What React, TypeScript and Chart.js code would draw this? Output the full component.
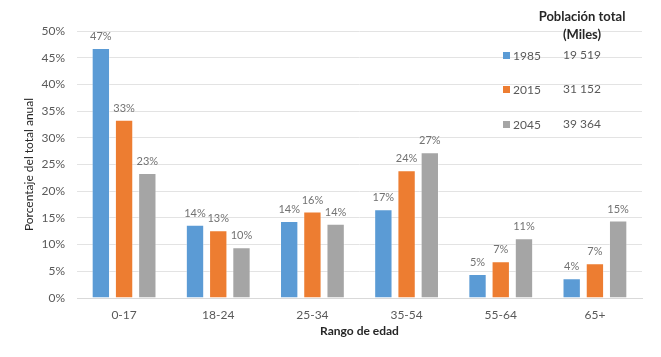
import React, { useEffect, useRef } from "react";
import { Chart, registerables } from "chart.js";

Chart.register(...registerables);

const categories = ["0-17", "18-24", "25-34", "35-54", "55-64", "65+"];
const seriesNames = ["1985", "2015", "2045"];
const values1985 = [46.8, 13.7, 14.4, 16.6, 4.5, 3.7];
const values2015 = [33.4, 12.7, 16.2, 23.9, 6.9, 6.5];
const values2045 = [23.4, 9.5, 13.9, 27.3, 11.2, 14.5];
const totals = ["19 519", "31 152", "39 364"];
const colors = ["#5b9bd5", "#ed7d31", "#a5a5a5"];
const legendTitle = ["Población total", "(Miles)"];

const FONT = "Lato, 'Open Sans', sans-serif";

const overlayPlugin = {
  id: "overlay",
  afterDatasetsDraw(chart: any) {
    const ctx = chart.ctx;
    ctx.save();
    ctx.font = `11px ${FONT}`;
    ctx.fillStyle = "#727272";
    ctx.textAlign = "center";
    ctx.textBaseline = "bottom";
    chart.data.datasets.forEach((ds: any, i: number) => {
      const meta = chart.getDatasetMeta(i);
      meta.data.forEach((bar: any, j: number) => {
        const v = ds.data[j];
        ctx.fillText(Math.round(v) + "%", bar.x, bar.y - 6);
      });
    });
    ctx.restore();
  },
  afterDraw(chart: any) {
    const ctx = chart.ctx;
    ctx.save();
    ctx.fillStyle = "#262626";
    ctx.font = `bold 13px ${FONT}`;
    ctx.textAlign = "center";
    ctx.textBaseline = "middle";
    ctx.fillText(legendTitle[0], 582, 17);
    ctx.fillText(legendTitle[1], 582, 35);
    const rows = [56, 90, 125];
    seriesNames.forEach((name, i) => {
      const y = rows[i];
      ctx.fillStyle = colors[i];
      ctx.fillRect(503, y - 4, 7, 7);
      ctx.fillStyle = "#595959";
      ctx.font = `12px ${FONT}`;
      ctx.textAlign = "left";
      ctx.fillText(name, 513, y);
      ctx.textAlign = "center";
      ctx.fillText(totals[i], 582, y - 1);
    });
    ctx.restore();
  },
};

export default function App() {
  const ref = useRef<HTMLCanvasElement>(null);
  useEffect(() => {
    document.body.style.margin = "0";
    const chart = new Chart(ref.current!, {
      type: "bar",
      data: {
        labels: categories,
        datasets: [values1985, values2015, values2045].map((d, i) => ({
          label: seriesNames[i],
          data: d,
          backgroundColor: colors[i],
          borderColor: "rgba(255,255,255,0.35)",
          borderWidth: 1,
          categoryPercentage: 0.74,
          barPercentage: 0.79,
        })),
      },
      options: {
        responsive: false,
        animation: false,
        layout: { padding: { top: 31, right: 19, left: 0, bottom: 0 } },
        plugins: { legend: { display: false }, tooltip: { enabled: false } },
        scales: {
          x: {
            grid: { display: false, drawTicks: false },
            border: { display: true, color: "#d9d9d9" },
            ticks: { color: "#595959", font: { family: FONT, size: 12 }, padding: 10 },
            title: {
              display: true,
              text: "Rango de edad",
              color: "#262626",
              font: { family: FONT, size: 12, weight: "bold" },
              padding: { top: 0, bottom: 19 },
            },
            afterFit(scale: any) {
              scale.height = 59;
            },
          },
          y: {
            min: 0,
            max: 50,
            grid: { color: "#e3e3e3", drawTicks: false },
            border: { display: false },
            ticks: {
              stepSize: 5,
              color: "#595959",
              font: { family: FONT, size: 12 },
              padding: 12,
              callback: (v: any) => v + "%",
            },
            title: {
              display: true,
              text: "Porcentaje del total anual",
              color: "#262626",
              font: { family: FONT, size: 12 },
              padding: { top: 22, bottom: 0 },
            },
            afterFit(scale: any) {
              scale.width = 77;
            },
          },
        },
      },
      plugins: [overlayPlugin],
    });
    return () => chart.destroy();
  }, []);
  return (
    <div style={{ width: 661, height: 357 }}>
      <canvas ref={ref} width={661} height={357} />
    </div>
  );
}
